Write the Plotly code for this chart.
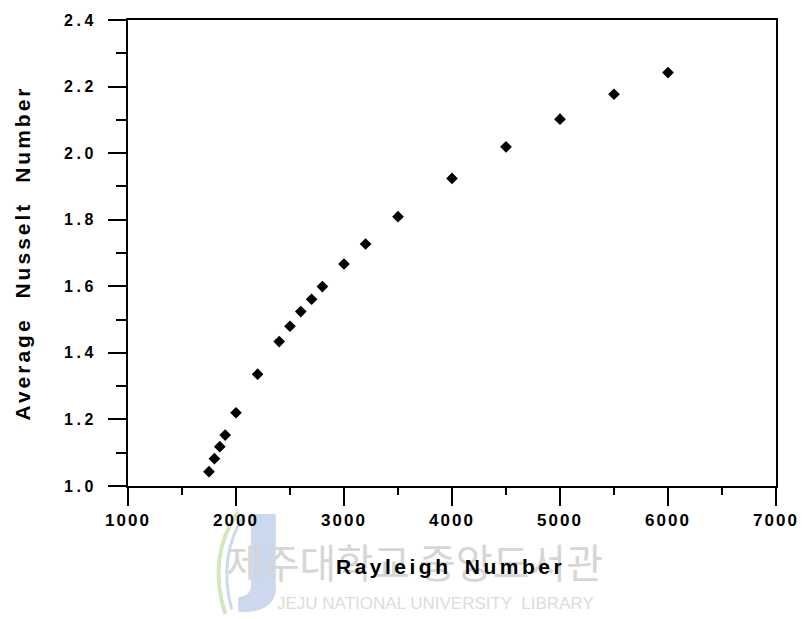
import plotly.graph_objects as go

# Average Nusselt number versus Rayleigh number
rayleigh = [1750, 1800, 1850, 1900, 2000, 2200, 2400, 2500, 2600, 2700,
            2800, 3000, 3200, 3500, 4000, 4500, 5000, 5500, 6000]
nusselt = [1.043, 1.082, 1.118, 1.153, 1.220, 1.336, 1.434, 1.480, 1.524, 1.561,
           1.599, 1.667, 1.727, 1.809, 1.924, 2.019, 2.102, 2.177, 2.242]

x_ticks = [1000, 2000, 3000, 4000, 5000, 6000, 7000]
y_ticks = [1.0, 1.2, 1.4, 1.6, 1.8, 2.0, 2.2, 2.4]

FONT = "Arial, Liberation Sans, sans-serif"


def spaced(text, ls, ws=0):
    return f'<span style="letter-spacing:{ls}px;word-spacing:{ws}px">{text}</span>'


fig = go.Figure()

fig.add_trace(go.Scatter(
    x=rayleigh, y=nusselt, mode="markers",
    marker=dict(symbol="diamond", size=9, color="black", line=dict(width=0)),
    showlegend=False,
))

axis_common = dict(
    showgrid=False, zeroline=False,
    showline=True, linecolor="black", linewidth=2, mirror=True,
    ticks="outside", tickcolor="black", tickwidth=2, ticklen=18,
)

fig.update_xaxes(
    range=[1000, 7000],
    tickvals=x_ticks,
    ticktext=[spaced(str(v), 2) for v in x_ticks],
    tickfont=dict(family=FONT, size=17, color="black", weight="bold"),
    minor=dict(dtick=500, ticks="outside", ticklen=7, tickwidth=2, tickcolor="black"),
    **axis_common,
)

fig.update_yaxes(
    range=[1.0, 2.4],
    tickvals=y_ticks,
    ticktext=[spaced(f"{v:.1f}", 3.5) for v in y_ticks],
    tickfont=dict(family=FONT, size=16, color="black", weight="bold"),
    minor=dict(dtick=0.1, ticks="outside", ticklen=10, tickwidth=2, tickcolor="black"),
    ticklabelstandoff=8,
    title=dict(text=spaced("Average Nusselt Number", 3, 10),
               font=dict(family=FONT, size=21, color="black", weight="bold"), standoff=28),
    **axis_common,
)

# faint library watermark, kept underneath the x-axis title
fig.add_shape(type="path", xref="paper", yref="paper",
              path="M 0.19 -0.06 L 0.228 -0.06 L 0.228 -0.23 Q 0.218 -0.275 0.17 -0.27 "
                   "L 0.17 -0.238 Q 0.19 -0.238 0.19 -0.21 Z",
              fillcolor="#cbd8ee", line=dict(width=0), layer="below")
fig.add_shape(type="path", xref="paper", yref="paper",
              path="M 0.17 -0.055 Q 0.122 -0.15 0.15 -0.275",
              line=dict(color="#d6e6bc", width=4), layer="below")
fig.add_shape(type="path", xref="paper", yref="paper",
              path="M 0.18 -0.06 Q 0.138 -0.15 0.16 -0.265",
              line=dict(color="#c9dcee", width=3), layer="below")
fig.add_annotation(
    text="제주대학교 중앙도서관", xref="paper", yref="paper",
    x=0.442, y=-0.162, xanchor="center", yanchor="middle", showarrow=False,
    font=dict(family="Noto Sans CJK KR", size=40, color="#d6d6d6"),
)
fig.add_annotation(
    text="JEJU NATIONAL UNIVERSITY  LIBRARY", xref="paper", yref="paper",
    x=0.475, y=-0.252, xanchor="center", yanchor="middle", showarrow=False,
    font=dict(family=FONT, size=17, color="#dcdcdc"),
)

# x-axis title, drawn after the watermark so it sits on top
fig.add_annotation(
    text=spaced("Rayleigh Number", 3.5, 4), xref="paper", yref="paper",
    x=0.497, y=-0.172, xanchor="center", yanchor="middle", showarrow=False,
    font=dict(family=FONT, size=21, color="black", weight="bold"),
)

fig.update_layout(
    width=811, height=619,
    margin=dict(l=128, r=31, t=20, b=133),
    paper_bgcolor="white", plot_bgcolor="white",
)

fig.write_html("out.html")
